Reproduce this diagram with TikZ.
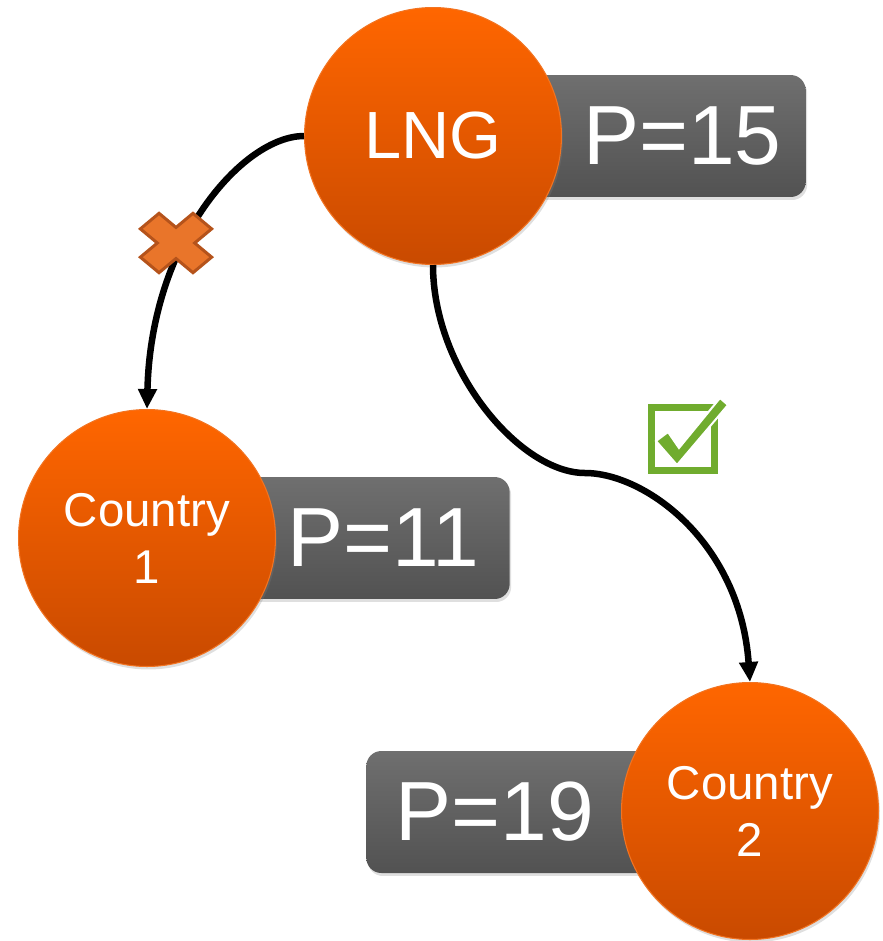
\documentclass[tikz,border=0pt]{standalone}
\usepackage{fontspec}
\setmainfont{Liberation Sans}
\usepackage{xcolor}
\usepackage{tikz}
\usetikzlibrary{arrows.meta,shadows}
\definecolor{lngOrange}{RGB}{255, 102, 0}
\definecolor{lngDark}{RGB}{201, 74, 0}
\definecolor{rimOrange}{RGB}{242, 116, 34}
\definecolor{boxTop}{RGB}{111, 111, 111}
\definecolor{boxBottom}{RGB}{82, 82, 82}
\definecolor{crossFill}{RGB}{233, 117, 42}
\definecolor{crossLine}{RGB}{181, 83, 27}
\definecolor{tickGreen}{RGB}{112, 172, 46}

\tikzset{
  market/.style={circle, minimum size=5.14cm, inner sep=0pt, draw=rimOrange, line width=0.6pt,
    top color=lngOrange, bottom color=lngDark, text=white, align=center,
    drop shadow={opacity=0.25, shadow xshift=0.03cm, shadow yshift=-0.06cm}},
  pricebox/.style={rectangle, rounded corners=0.3cm, minimum height=2.44cm, inner xsep=0.48cm,
    top color=boxTop, bottom color=boxBottom, text=white, font=\fontsize{47.8}{50}\selectfont,
    drop shadow={opacity=0.25, shadow xshift=0.03cm, shadow yshift=-0.06cm}},
  flow/.style={line width=0.13cm, -{Triangle[length=0.4cm,width=0.36cm]}}
}

\begin{document}
\begin{tikzpicture}[x=0.02cm, y=-0.02cm]
\useasboundingbox (0,0) rectangle (883,941);

% Price tags (behind the circles)
\node[pricebox, anchor=east, text width=6.36cm, align=right] (p15) at (806,136) {P=15};
\node[pricebox, anchor=east, text width=6.0cm, inner xsep=0.6cm, align=right] (p11) at (510,538) {P=11};
\node[pricebox, anchor=west, text width=5.6cm, inner xsep=0.58cm, align=left] (p19) at (366,812) {P=19};

% Markets
\node[market, font=\fontsize{38}{40}\selectfont] (lng) at (433,136) {LNG};
\node[market, font=\fontsize{27}{32.4}\selectfont] (c1) at (147,538) {Country\\1};
\node[market, font=\fontsize{27}{32.4}\selectfont] (c2) at (750,811) {Country\\2};

% Flows
\coordinate (bend) at (585,473);
\draw[flow] (lng.west) .. controls +(-60,0) and +(4,-170) .. (c1.north);
\draw[flow] (lng.south) .. controls +(0,105) and +(-65,0) .. (bend)
  .. controls +(60,0) and +(-10,-140) .. (c2.north);

% Blocked route
\filldraw[fill=crossFill, draw=crossLine, line width=0.06cm, shift={(176,243)}, xscale=1.2, rotate=45]
  (11,11) -- (31,11) -- (31,-11) -- (11,-11) -- (11,-31) -- (-11,-31) -- (-11,-11)
  -- (-31,-11) -- (-31,11) -- (-11,11) -- (-11,31) -- (11,31) -- cycle;

% Chosen route
\node[draw=tickGreen, line width=0.14cm, minimum size=1.26cm, inner sep=0pt] (tick) at (683,438.5) {};
\filldraw[fill=tickGreen, draw=white, line width=0.04cm]
  (656,441) -- (668,432) -- (679,448) -- (720,398) -- (728,405) -- (677,465) -- cycle;
\end{tikzpicture}
\end{document}
